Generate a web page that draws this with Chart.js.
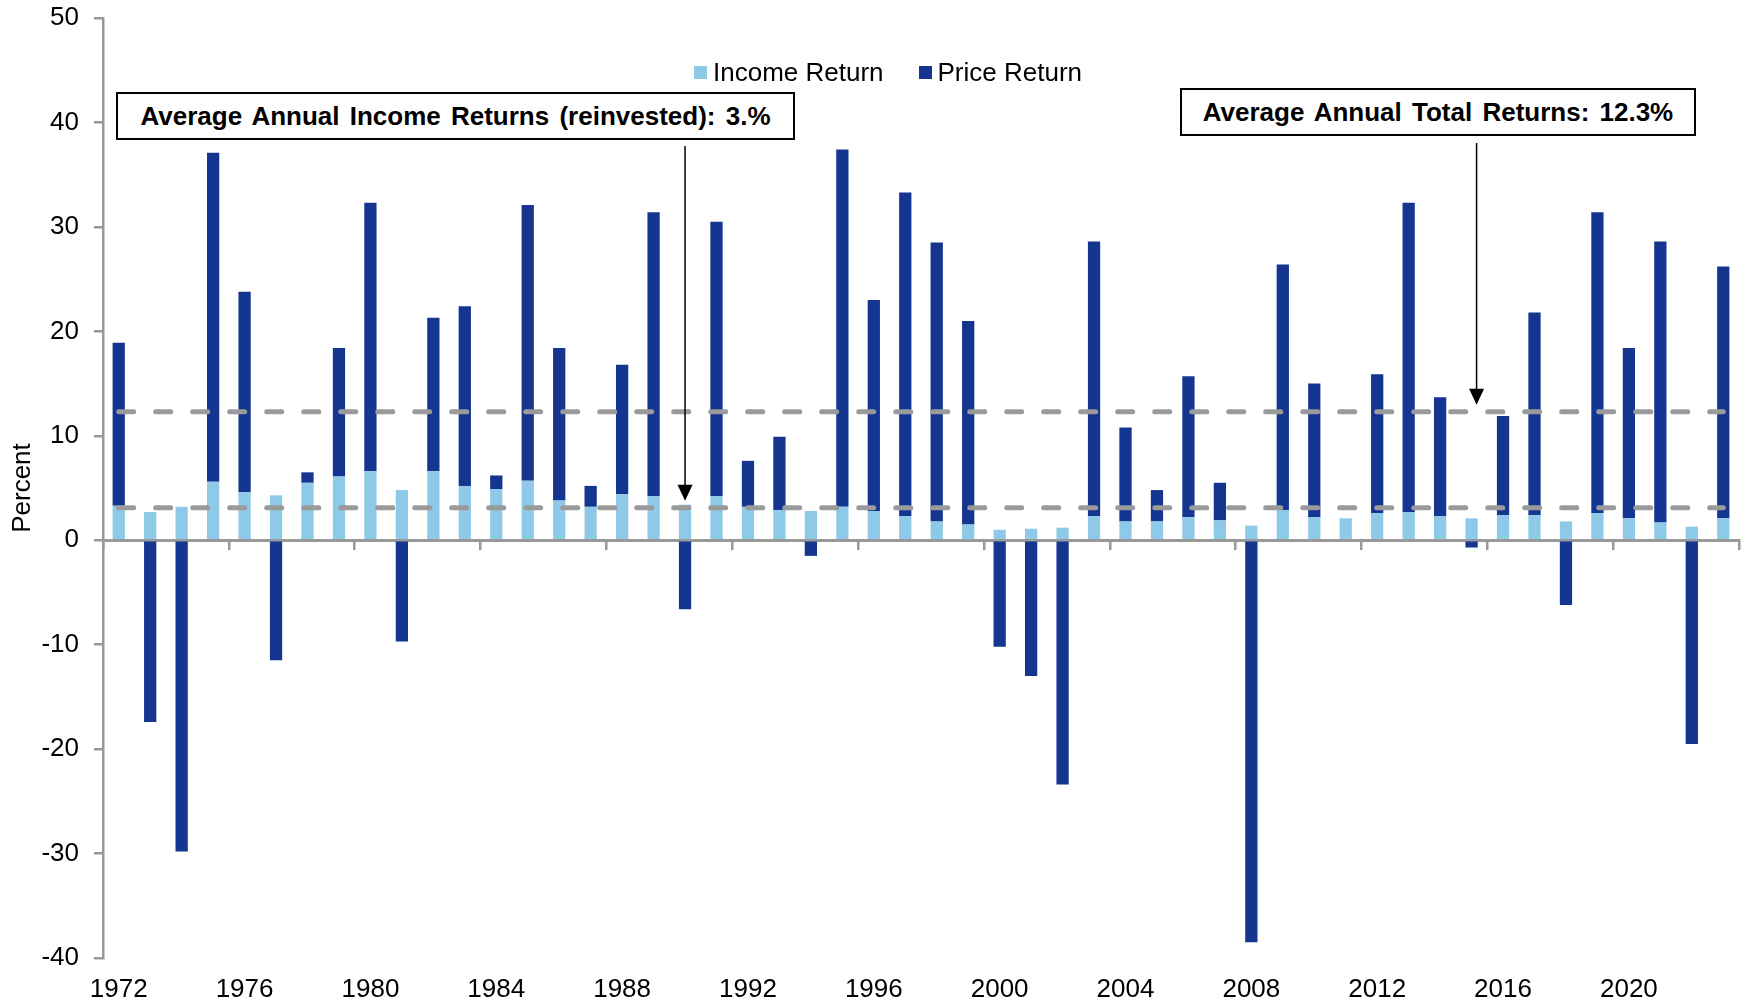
<!DOCTYPE html>
<html>
<head>
<meta charset="utf-8">
<title>Income Return and Price Return</title>
<script src="https://cdn.jsdelivr.net/npm/chart.js@4.4.1/dist/chart.umd.min.js"></script>
<style>
  html, body { margin: 0; padding: 0; background: #fff; }
  #wrap { position: relative; width: 1743px; height: 1008px; font-family: "Liberation Sans", Arial, sans-serif; }
  .legend { position: absolute; left: 694px; top: 57px; display: flex; align-items: center; font-size: 26px; line-height: 30px; color: #000; }
  .legend .item { display: flex; align-items: center; margin-right: 35px; }
  .legend .box { display: inline-block; width: 13px; height: 13px; margin-right: 6px; }
  .note { position: absolute; box-sizing: border-box; height: 48px; border: 2px solid #000; background: #fff;
          font-weight: bold; font-size: 26px; display: flex; align-items: center; justify-content: center; word-spacing: 3px; }
</style>
</head>
<body>
<div id="wrap">
  <canvas id="chart"></canvas>
  <div class="legend">
    <div class="item"><span class="box" style="background:#8ECAE7"></span>Income Return</div>
    <div class="item"><span class="box" style="background:#143590"></span>Price Return</div>
  </div>
  <div class="note" style="left:116px; top:92px; width:679px;">Average Annual Income Returns (reinvested): 3.%</div>
  <div class="note" style="left:1180px; top:88px; width:516px;">Average Annual Total Returns: 12.3%</div>
</div>

<script>
// ------------------------------------------------------
// Data
// ------------------------------------------------------
const years = [];
for (let y = 1972; y <= 2023; y++) years.push(String(y));

const incomeReturn = [
  3.3, 2.7, 3.2, 5.6, 4.6, 4.3, 5.5, 6.1, 6.6, 4.8,   // 1972-1981
  6.6, 5.2, 4.9, 5.7, 3.8, 3.2, 4.4, 4.2, 3.4, 4.2,   // 1982-1991
  3.2, 2.9, 2.8, 3.2, 2.8, 2.3, 1.8, 1.5, 1.0, 1.1,   // 1992-2001
  1.2, 2.3, 1.8, 1.8, 2.2, 1.9, 1.4, 2.9, 2.2, 2.1,   // 2002-2011
  2.6, 2.7, 2.3, 2.1, 2.4, 2.4, 1.8, 2.6, 2.1, 1.7,   // 2012-2021
  1.3, 2.1                                            // 2022-2023
];

const priceReturn = [
  15.6, -17.4, -29.8, 31.5, 19.2, -11.5, 1.0, 12.3, 25.7, -9.7,
  14.7, 17.2, 1.3, 26.4, 14.6, 2.0, 12.4, 27.2, -6.6, 26.3,
  4.4, 7.0, -1.5, 34.2, 20.2, 31.0, 26.7, 19.5, -10.2, -13.0,
  -23.4, 26.3, 9.0, 3.0, 13.5, 3.6, -38.5, 23.5, 12.8, 0,
  13.3, 29.6, 11.4, -0.7, 9.5, 19.4, -6.2, 28.8, 16.3, 26.9,
  -19.5, 24.1
];

const totalAvg = 12.3;
const incomeAvg = 3.1;

const yTicks = { min: -40, max: 50, step: 10 };

// ------------------------------------------------------
// Colours
// ------------------------------------------------------
const LIGHT = "#8ECAE7";
const DARK = "#143590";
const AXIS = "#999999";
const DASH = "#9A9A9A";

// ------------------------------------------------------
// Arrows from the note boxes down to the average lines
// ------------------------------------------------------
const arrowPlugin = {
  id: "arrows",
  afterDatasetsDraw(chart) {
    const { ctx } = chart;
    const xs = chart.scales.x;
    const ys = chart.scales.y;
    const list = [
      { idx: years.indexOf("1990"), value: incomeAvg, top: 146, dx: 0 },
      { idx: years.indexOf("2015"), value: totalAvg, top: 143, dx: 5 }
    ];
    ctx.save();
    ctx.strokeStyle = "#000";
    ctx.fillStyle = "#000";
    ctx.lineWidth = 1.5;
    list.forEach(a => {
      const x = xs.getPixelForValue(a.idx) + a.dx;
      const tip = ys.getPixelForValue(a.value) - 7;
      ctx.beginPath();
      ctx.moveTo(x, a.top);
      ctx.lineTo(x, tip - 14);
      ctx.stroke();
      ctx.beginPath();
      ctx.moveTo(x - 7.5, tip - 16);
      ctx.lineTo(x + 7.5, tip - 16);
      ctx.lineTo(x, tip);
      ctx.closePath();
      ctx.fill();
    });
    ctx.restore();
  }
};

// ------------------------------------------------------
// Chart
// ------------------------------------------------------
Chart.defaults.font.family = '"Liberation Sans", Arial, sans-serif';
Chart.defaults.font.size = 26;
Chart.defaults.color = "#000";

function dashedLine(value, stack) {
  return {
    type: "line",
    data: years.map(() => value),
    stack: stack,
    borderColor: DASH,
    borderWidth: 5,
    borderDash: [15, 22],
    borderCapStyle: "round",
    pointRadius: 0,
    fill: false,
    order: 0
  };
}

new Chart(document.getElementById("chart"), {
  type: "bar",
  data: {
    labels: years,
    datasets: [
      {
        label: "Income Return",
        data: incomeReturn,
        backgroundColor: LIGHT,
        stack: "ret",
        barPercentage: 0.39,
        categoryPercentage: 1.0,
        order: 1
      },
      {
        label: "Price Return",
        data: priceReturn,
        backgroundColor: DARK,
        stack: "ret",
        barPercentage: 0.39,
        categoryPercentage: 1.0,
        order: 1
      },
      dashedLine(totalAvg, "avgTotal"),
      dashedLine(incomeAvg, "avgIncome")
    ]
  },
  options: {
    responsive: true,
    maintainAspectRatio: false,
    animation: false,
    layout: { padding: { top: 18, right: 4, bottom: 0, left: 1 } },
    plugins: {
      legend: { display: false },
      tooltip: { enabled: false }
    },
    scales: {
      x: {
        stacked: true,
        offset: true,
        grid: { display: false, drawTicks: false },
        border: { display: false },
        ticks: {
          autoSkip: false,
          maxRotation: 0,
          padding: 16,
          callback: (v, i) => (i % 4 === 0 ? years[i] : "")
        },
        afterFit: s => { s.height = 50; s.paddingLeft = 0; s.paddingRight = 0; }
      },
      x2: {
        type: "category",
        position: { y: 0 },
        offset: true,
        ticks: { display: false },
        grid: {
          offset: true,
          drawOnChartArea: false,
          tickLength: 8,
          lineWidth: 2.5,
          color: c => (c.index === undefined || c.index % 4 === 0 ? AXIS : "rgba(0,0,0,0)")
        },
        border: { color: AXIS, width: 3 }
      },
      y: {
        stacked: true,
        min: yTicks.min,
        max: yTicks.max,
        ticks: { stepSize: yTicks.step, padding: 15 },
        grid: { drawOnChartArea: false, tickLength: 9, color: AXIS, lineWidth: 2.5 },
        border: { color: AXIS, width: 2.5 },
        title: { display: true, text: "Percent", padding: { top: 6, bottom: 3 } },
        afterFit: s => { s.width = 102; s.paddingTop = 0; s.paddingBottom = 0; }
      }
    }
  },
  plugins: [arrowPlugin]
});
</script>
</body>
</html>
